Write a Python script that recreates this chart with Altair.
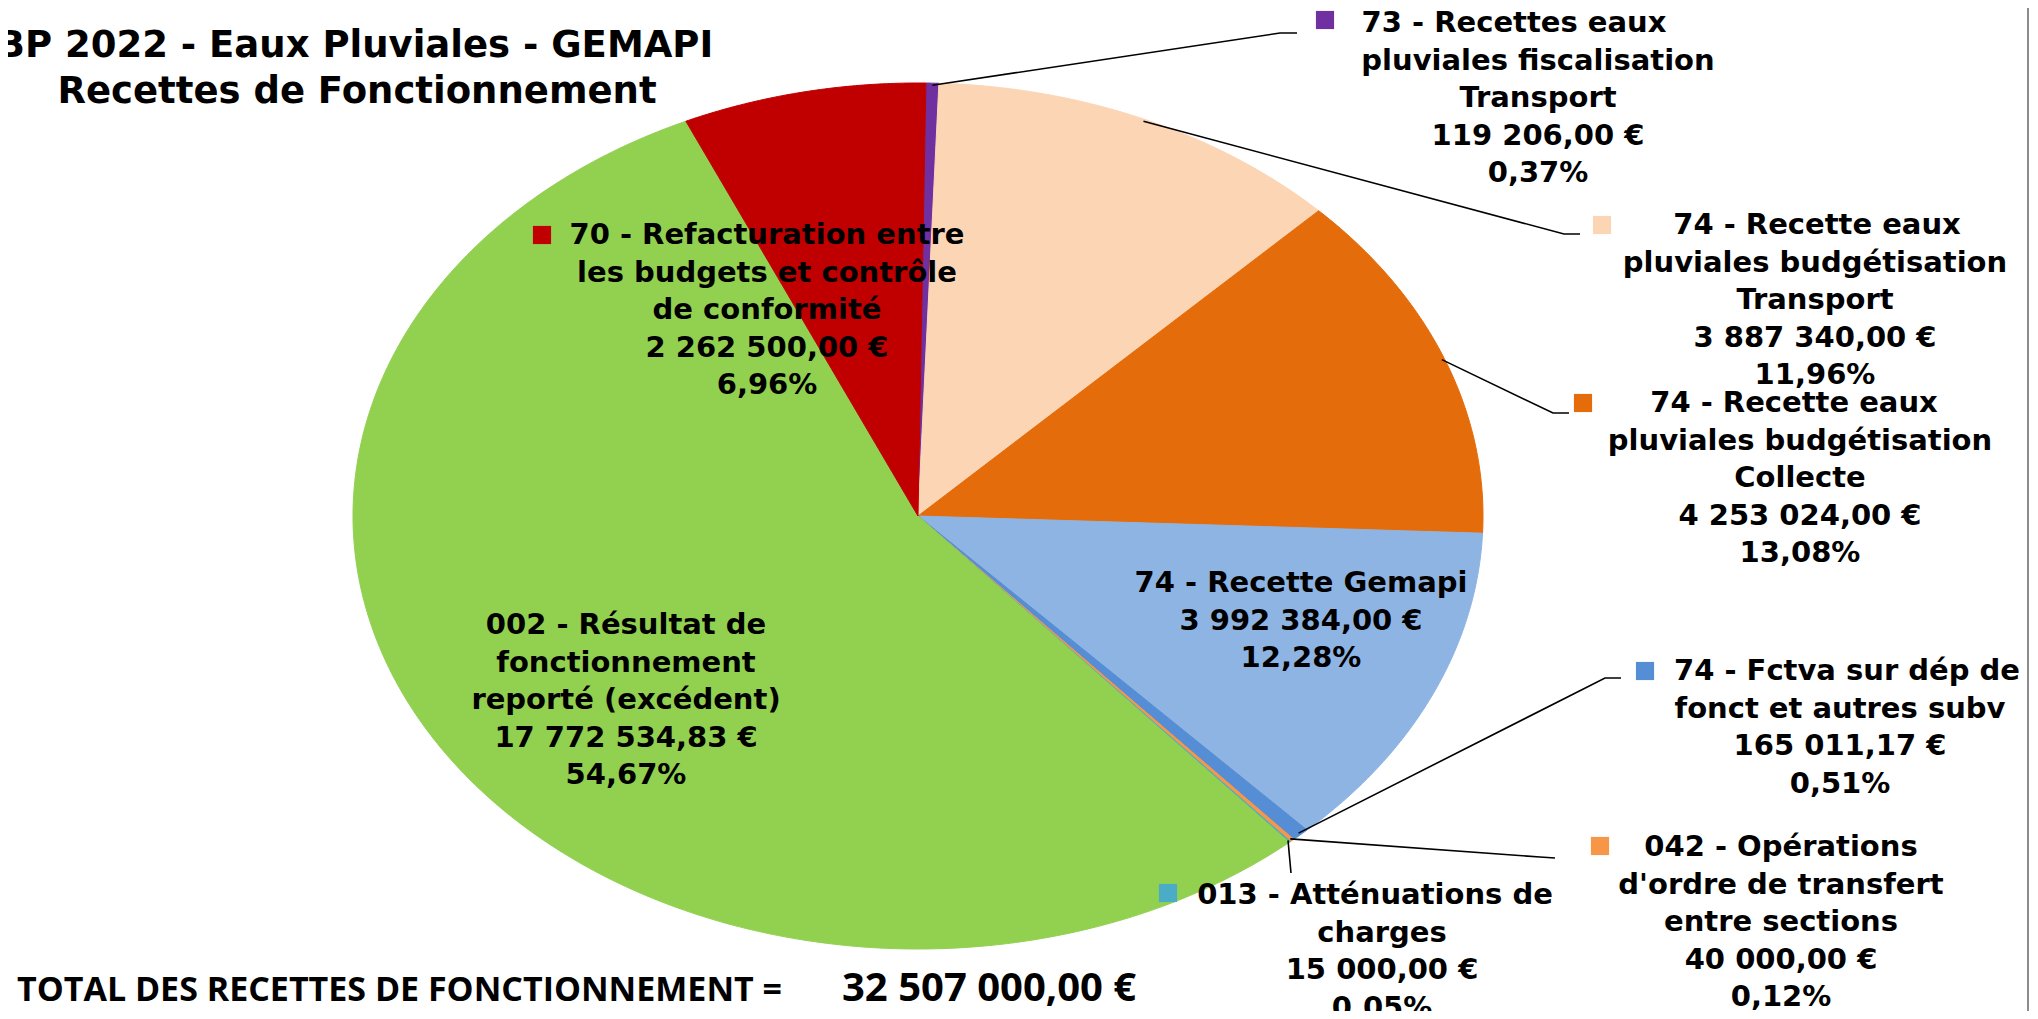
import altair as alt
import numpy as np
import pandas as pd

# ---------------- data (clockwise from 12 o'clock) ----------------
ids = ["73", "74T", "74C", "74G", "74F", "042", "013", "002", "70"]
names = [
    "73 - Recettes eaux\npluviales fiscalisation\nTransport",
    "74 - Recette eaux\npluviales budgétisation\nTransport",
    "74 - Recette eaux\npluviales budgétisation\nCollecte",
    "74 - Recette Gemapi",
    "74 - Fctva sur dép de\nfonct et autres subv",
    "042 - Opérations\nd'ordre de transfert\nentre sections",
    "013 - Atténuations de\ncharges",
    "002 - Résultat de\nfonctionnement\nreporté (excédent)",
    "70 - Refacturation entre\nles budgets et contrôle\nde conformité",
]
amounts = [119206.00, 3887340.00, 4253024.00, 3992384.00, 165011.17,
           40000.00, 15000.00, 17772534.83, 2262500.00]
colors = ["#7030A0", "#FCD5B5", "#E46C0A", "#8EB4E3", "#558ED5",
          "#F79646", "#4BACC6", "#92D050", "#C00000"]

title_lines = ["BP 2022 - Eaux Pluviales - GEMAPI", "Recettes de Fonctionnement"]
total_caption = "TOTAL DES RECETTES DE FONCTIONNEMENT ="

# ---------------- layout (pixel positions, not data) ----------------
CX, CY, RX, RY = 918, 516, 565, 433
START_DEG = 0.8
LINE_H = 37.5
# id: (block centre x, first line y, first line centre x, key (x,y) or None, leader elbow/end or None)
label_layout = {
    "73": (1538, 23, 1514, (1325, 20), [(1280, 33), (1297, 33)]),
    "74T": (1815, 225, 1817, (1602, 225), [(1564, 234), (1580, 234)]),
    "74C": (1800, 403, 1794, (1583, 403), [(1553, 413), (1569, 413)]),
    "74G": (1301, 583, 1301, None, None),
    "74F": (1840, 671, 1847, (1645, 671), [(1605, 678), (1621, 678)]),
    "042": (1781, 847, 1781, (1600, 846), [(1540, 857), (1555, 858)]),
    "013": (1382, 895, 1375, (1168, 893), [(1291, 873)]),
    "002": (626, 625, 626, None, None),
    "70": (767, 235, 767, (542, 235), None),
}


def fr_money(v):
    return f"{v:,.2f}".replace(",", " ").replace(".", ",") + " €"


def fr_pct(v):
    return f"{v:.2f}".replace(".", ",") + "%"


total = sum(amounts)

# pie slices as closed polygons on an ellipse
pie_rows, leader_rows, text_rows, key_rows = [], [], [], []
cum = 0.0
for k, name, v in zip(ids, names, amounts):
    a0 = START_DEG + cum / total * 360
    cum += v
    a1 = START_DEG + cum / total * 360
    n = max(2, int(np.ceil((a1 - a0) / 0.4)) + 1)
    pie_rows.append(dict(key=k, i=0, px=CX, py=CY))
    for j, a in enumerate(np.linspace(a0, a1, n)):
        t = np.radians(a)
        pie_rows.append(dict(key=k, i=j + 1, px=CX + RX * np.sin(t), py=CY - RY * np.cos(t)))

    bx, by, l1x, keypos, leader = label_layout[k]
    lines = name.split("\n") + [fr_money(v), fr_pct(v / total * 100)]
    for li, txt in enumerate(lines):
        text_rows.append(dict(key=k, txt=txt, tx=(l1x if li == 0 else bx), ty=by + li * LINE_H))
    if keypos is not None:
        key_rows.append(dict(key=k, kx=keypos[0], ky=keypos[1]))
    if leader is not None:
        mid = np.radians((a0 + a1) / 2)
        pts = [(CX + RX * 0.995 * np.sin(mid), CY - RY * 0.995 * np.cos(mid))] + leader
        for j, (lx, ly) in enumerate(pts):
            leader_rows.append(dict(key=k, i=j, lx=lx, ly=ly))

pie_df = pd.DataFrame(pie_rows)
leader_df = pd.DataFrame(leader_rows)
text_df = pd.DataFrame(text_rows)
key_df = pd.DataFrame(key_rows)

W, H = 2022, 1003
xs = alt.Scale(domain=[8, 8 + W], nice=False, zero=False)
ys = alt.Scale(domain=[8, 8 + H], nice=False, zero=False, reverse=True)
cs = alt.Scale(domain=ids, range=colors)

LABEL_FONT = "DejaVu Sans"
TITLE_FONT = "DejaVu Sans"
TOTAL_FONT = "Open Sans"

pie = alt.Chart(pie_df).mark_line(interpolate="linear-closed", strokeWidth=1).encode(
    x=alt.X("px:Q", scale=xs, axis=None),
    y=alt.Y("py:Q", scale=ys, axis=None),
    detail="key:N",
    order="i:Q",
    fill=alt.Fill("key:N", scale=cs, legend=None),
    stroke=alt.Stroke("key:N", scale=cs, legend=None),
)

leaders = alt.Chart(leader_df).mark_line(color="#000000", strokeWidth=1.6).encode(
    x=alt.X("lx:Q", scale=xs, axis=None),
    y=alt.Y("ly:Q", scale=ys, axis=None),
    detail="key:N",
    order="i:Q",
)

keys = alt.Chart(key_df).mark_square(size=330, opacity=1, filled=True).encode(
    x=alt.X("kx:Q", scale=xs, axis=None),
    y=alt.Y("ky:Q", scale=ys, axis=None),
    fill=alt.Fill("key:N", scale=cs, legend=None),
)

labels = alt.Chart(text_df).mark_text(
    font=LABEL_FONT, fontWeight="bold", fontSize=29, align="center", baseline="middle", color="#000000"
).encode(
    x=alt.X("tx:Q", scale=xs, axis=None),
    y=alt.Y("ty:Q", scale=ys, axis=None),
    text="txt:N",
)


def text_layer(txt, x, y, size, align, font, baseline="middle"):
    return alt.Chart(pd.DataFrame({"t": [txt], "x": [x], "y": [y]})).mark_text(
        font=font, fontWeight="bold", fontSize=size, align=align, baseline=baseline, color="#000000"
    ).encode(x=alt.X("x:Q", scale=xs, axis=None), y=alt.Y("y:Q", scale=ys, axis=None), text="t:N")


t1 = text_layer(title_lines[0], 355, 57, 37, "center", TITLE_FONT, "alphabetic")
t2 = text_layer(title_lines[1], 357, 103, 37, "center", TITLE_FONT, "alphabetic")
tot1 = text_layer(total_caption, 17, 991, 34, "left", TOTAL_FONT)
tot2 = text_layer(fr_money(total), 842, 989, 40, "left", TOTAL_FONT)

border = alt.Chart(pd.DataFrame({"a": [0]})).mark_rule(color="#8c8c8c", strokeWidth=2).encode(
    x=alt.value(W - 2), y=alt.value(0), y2=alt.value(H)
)

chart = alt.layer(pie, leaders, keys, labels, t1, t2, tot1, tot2, border).properties(
    width=W, height=H, padding=0, autosize="none", background="#ffffff"
).configure_view(strokeWidth=0)

chart.save("out.html", embed_options={"renderer": "svg", "actions": False})
